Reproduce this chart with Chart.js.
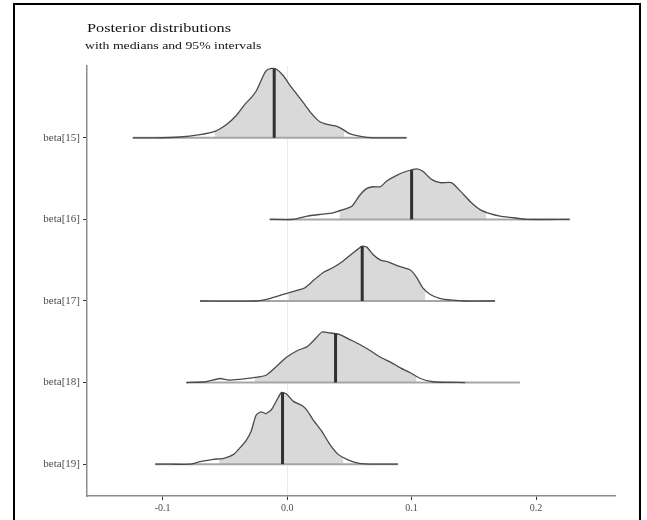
<!DOCTYPE html>
<html><head><meta charset="utf-8">
<script src="https://cdn.jsdelivr.net/npm/chart.js@4.4.0/dist/chart.umd.min.js"></script>
<style>
html,body{margin:0;padding:0;background:#fff;width:647px;height:520px;overflow:hidden;}
#wrap{position:relative;width:647px;height:520px;}
#frame{position:absolute;left:13px;top:3px;width:628px;height:540px;border:2px solid #000;box-sizing:border-box;pointer-events:none;}
canvas{position:absolute;left:0;top:0;}
.t{position:absolute;font-family:'Liberation Serif','Times New Roman',serif;color:#111;white-space:nowrap;line-height:1;transform-origin:0 0;transform:scaleX(1.25);}
</style></head>
<body><div id="wrap"><canvas id="c" width="647" height="520"></canvas>
<div class="t" style="left:87px;top:21px;font-size:13px;">Posterior distributions</div>
<div class="t" style="left:85px;top:40px;font-size:11px;">with medians and 95% intervals</div>
<div id="frame"></div></div>
<script>
const parameters = ['beta[15]','beta[16]','beta[17]','beta[18]','beta[19]'];
const xTickValues = [-0.1, 0.0, 0.1, 0.2];
const medians = [-0.0104, 0.1000, 0.0603, 0.0389, -0.0037];
const interval95Low = [-0.058, 0.042, 0.001, -0.026, -0.055];
const interval95High = [0.046, 0.160, 0.111, 0.104, 0.045];
const rangeLow = [-0.124, -0.014, -0.070, -0.081, -0.106];
const rangeHigh = [0.096, 0.227, 0.167, 0.187, 0.089];

const beta15X = [-0.124,-0.108,-0.086,-0.070,-0.058,-0.049,-0.041,-0.034,-0.029,-0.025,-0.021,-0.017,-0.0125,-0.0085,-0.003,0.002,0.008,0.013,0.020,0.026,0.033,0.040,0.045,0.050,0.058,0.069,0.096];
const beta15Density = [0,0,0.01,0.04,0.08,0.16,0.27,0.41,0.49,0.57,0.70,0.82,0.85,0.84,0.76,0.65,0.53,0.43,0.29,0.20,0.16,0.14,0.10,0.05,0.02,0.00,0];
const beta16X = [-0.014,0.005,0.016,0.026,0.037,0.045,0.052,0.058,0.064,0.069,0.075,0.080,0.088,0.096,0.104,0.109,0.116,0.123,0.132,0.139,0.147,0.155,0.163,0.171,0.182,0.192,0.227];
const beta16Density = [0,0.00,0.04,0.06,0.08,0.12,0.16,0.29,0.38,0.40,0.40,0.47,0.54,0.59,0.62,0.59,0.49,0.45,0.45,0.35,0.22,0.12,0.07,0.04,0.02,0.00,0];
const beta17X = [-0.070,-0.025,-0.014,-0.003,0.008,0.014,0.021,0.029,0.037,0.045,0.053,0.060,0.064,0.069,0.075,0.081,0.089,0.099,0.104,0.109,0.115,0.123,0.133,0.142,0.167];
const beta17Density = [0,0.00,0.03,0.08,0.13,0.16,0.25,0.35,0.41,0.49,0.59,0.67,0.66,0.57,0.50,0.48,0.43,0.38,0.29,0.16,0.08,0.03,0.01,0,0];
const beta18X = [-0.081,-0.065,-0.054,-0.047,-0.038,-0.027,-0.017,-0.0085,-0.0005,0.008,0.016,0.021,0.028,0.034,0.042,0.050,0.058,0.067,0.075,0.083,0.091,0.099,0.107,0.117,0.143];
const beta18Density = [0,0.01,0.05,0.03,0.04,0.06,0.09,0.20,0.31,0.39,0.44,0.51,0.62,0.61,0.59,0.53,0.47,0.39,0.31,0.25,0.18,0.12,0.05,0.01,0];
const beta19X = [-0.106,-0.094,-0.078,-0.070,-0.0595,-0.051,-0.043,-0.038,-0.033,-0.029,-0.025,-0.021,-0.017,-0.0125,-0.0085,-0.0045,-0.0005,0.005,0.012,0.016,0.021,0.028,0.034,0.041,0.048,0.058,0.072,0.089];
const beta19Density = [0,0,0.00,0.03,0.06,0.07,0.12,0.20,0.29,0.40,0.60,0.64,0.62,0.67,0.78,0.88,0.86,0.77,0.72,0.66,0.54,0.40,0.25,0.12,0.06,0.01,0,0];

const curvesX = [beta15X, beta16X, beta17X, beta18X, beta19X];
const curvesD = [beta15Density, beta16Density, beta17Density, beta18Density, beta19Density];

function heightAt(xs, ds, x) {
  if (x <= xs[0]) return ds[0];
  for (let k = 1; k < xs.length; k++) {
    if (x <= xs[k]) {
      const t = (x - xs[k-1]) / (xs[k] - xs[k-1]);
      return ds[k-1] + t * (ds[k] - ds[k-1]);
    }
  }
  return ds[ds.length-1];
}

const FONT = "'Liberation Serif','Times New Roman',serif";
const datasets = [];
const n = parameters.length;
parameters.forEach((p, i) => {
  const base = n - 1 - i;
  const xs = curvesX[i], ds = curvesD[i];
  const lo = interval95Low[i], hi = interval95High[i];
  const shade = [{x: lo, y: base + heightAt(xs, ds, lo)}];
  xs.forEach((x, k) => { if (x > lo && x < hi) shade.push({x: x, y: base + ds[k]}); });
  shade.push({x: hi, y: base + heightAt(xs, ds, hi)});
  datasets.push({label: p + ' 95%', data: shade, fill: {value: base}, backgroundColor: '#d9d9d9',
    borderWidth: 0, pointRadius: 0, tension: 0.2, order: 40 + i});
  datasets.push({label: p + ' range', data: [{x: rangeLow[i], y: base}, {x: rangeHigh[i], y: base}],
    borderColor: '#a6a6a6', borderWidth: 2, pointRadius: 0, fill: false, order: 30 + i});
  datasets.push({label: p, data: xs.map((x, k) => ({x: x, y: base + ds[k]})),
    borderColor: '#4a4a4a', borderWidth: 1.3, pointRadius: 0, fill: false, tension: 0.2, order: 20 + i});
  const m = medians[i];
  datasets.push({label: p + ' median', data: [{x: m, y: base}, {x: m, y: base + heightAt(xs, ds, m)}],
    borderColor: '#303030', borderWidth: 3, pointRadius: 0, fill: false, order: 10 + i});
});

new Chart(document.getElementById('c'), {
  type: 'line',
  data: {datasets: datasets},
  options: {
    responsive: false, animation: false, devicePixelRatio: 1,
    layout: {padding: {top: 66, right: 32, left: 0, bottom: 0}},
    plugins: {legend: {display: false}, tooltip: {enabled: false}},
    scales: {
      x: {
        type: 'linear', min: -0.1608, max: 0.2634,
        afterBuildTicks: s => { s.ticks = xTickValues.map(v => ({value: v})); },
        afterFit: s => { s.height = 24; },
        ticks: {
          callback: v => (Math.abs(v) < 1e-9 ? '0.0' : Number(v).toFixed(1)),
          font: {family: FONT, size: 10}, color: '#4d4d4d', padding: 2, maxRotation: 0, autoSkip: false
        },
        grid: {
          drawOnChartArea: true,
          color: c => (c.tick && Math.abs(c.tick.value) < 1e-9) ? '#ebebeb' : 'rgba(0,0,0,0)',
          tickColor: '#333', tickLength: 4, lineWidth: 1
        },
        border: {display: true, color: '#8c8c8c', width: 1.5}
      },
      y: {
        type: 'linear', min: -0.39, max: 4.88,
        afterBuildTicks: s => { s.ticks = parameters.map((p, i) => ({value: n - 1 - i})); },
        afterFit: s => { s.width = 87; },
        ticks: {
          callback: v => parameters[n - 1 - Math.round(v)],
          font: {family: FONT, size: 11}, color: '#4d4d4d', padding: 3, autoSkip: false
        },
        grid: {drawOnChartArea: false, tickColor: '#333', tickLength: 4},
        border: {display: true, color: '#8c8c8c', width: 1.5}
      }
    }
  }
});
</script>
</body></html>
